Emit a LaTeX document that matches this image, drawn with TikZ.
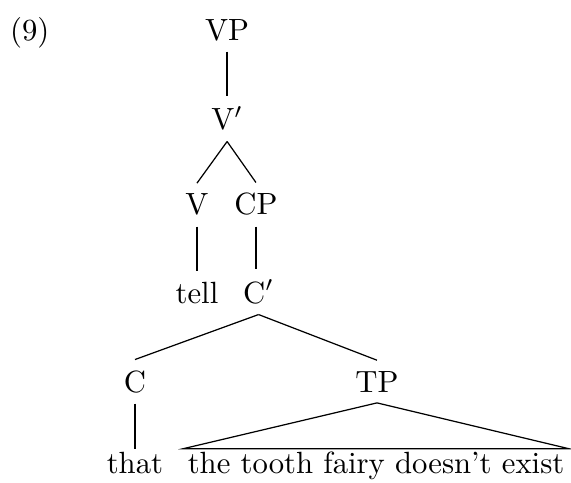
\documentclass[tikz,border=0pt]{standalone}
\usepackage{amsmath}
\usepackage{tikz}

\begin{document}
\begin{tikzpicture}[
    cat/.style={anchor=base},
    leaf/.style={anchor=base, inner ysep=1pt, inner xsep=1.2pt},
    branch/.style={thin}
]
\useasboundingbox (0,0) rectangle (6.537,-5.518);

% Example number
\node[cat] (num) at (0.34,-0.458) {(9)};

% Tree nodes
\node[cat] (vp) at (2.60,-0.458) {VP};
\node[cat] (vbar) at (2.60,-1.488) {V$'$};
\node[cat] (v) at (2.255,-2.461) {V};
\node[cat] (cp) at (2.93,-2.461) {CP};
\node[cat] (tell) at (2.255,-3.469) {tell};
\node[cat] (cbar) at (2.96,-3.469) {C$'$};
\node[cat] (c) at (1.545,-4.488) {C};
\node[cat] (tp) at (4.316,-4.488) {TP};
\node[leaf] (that) at (1.545,-5.426) {that};
\node[leaf] (clause) at (4.305,-5.426) {the tooth fairy doesn't exist};

% Branches
\draw[branch] (vp.south) -- (vbar.north);
\draw[branch] (vbar.south) -- (v.north);
\draw[branch] (vbar.south) -- (cp.north);
\draw[branch] (v.south) -- (tell.north);
\draw[branch] (cp.south) -- (cp.south |- cbar.north);
\draw[branch] (cbar.south) -- (c.north);
\draw[branch] (cbar.south) -- (tp.north);
\draw[branch] (c.south) -- (that.north);

% Triangle over the clause
\draw[branch] (tp.south) -- (clause.north west) -- (clause.north east) -- cycle;
\end{tikzpicture}
\end{document}
